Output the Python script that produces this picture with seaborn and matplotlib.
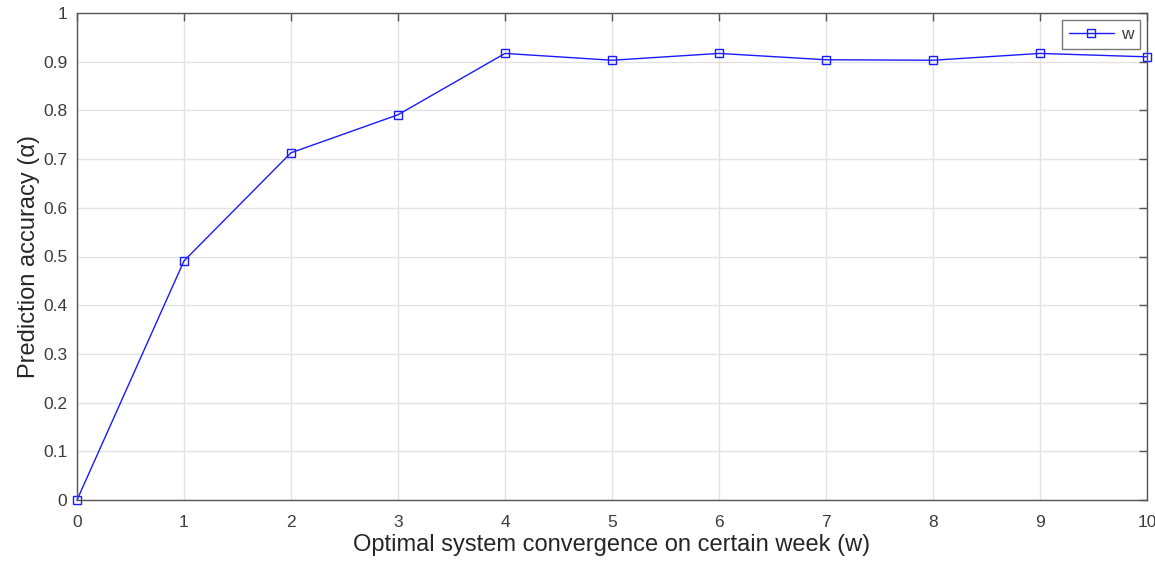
import matplotlib
matplotlib.use("Agg")
import matplotlib.pyplot as plt
import seaborn as sns
import pandas as pd

weeks = [0, 1, 2, 3, 4, 5, 6, 7, 8, 9, 10]
accuracy = [0.0, 0.491, 0.713, 0.791, 0.917, 0.903, 0.917, 0.904, 0.903, 0.917, 0.910]
series_name = "w"
x_ticks = list(range(0, 11))
y_ticks = [0, 0.1, 0.2, 0.3, 0.4, 0.5, 0.6, 0.7, 0.8, 0.9, 1]
y_tick_labels = ["0", "0.1", "0.2", "0.3", "0.4", "0.5", "0.6", "0.7", "0.8", "0.9", "1"]

sns.set_theme(style="white")
plt.rcParams['font.family'] = ['Liberation Sans', 'DejaVu Sans']

df = pd.DataFrame({"week": weeks, "acc": accuracy, "series": series_name})

fig = plt.figure(figsize=(11.55, 5.73), dpi=100)
ax = fig.add_axes([77/1155, 1-500/573, (1147-77)/1155, (500-13)/573])

line_color = "#1a1aff"
sns.lineplot(data=df, x="week", y="acc", hue="series", palette=[line_color],
             marker="s", markersize=6, markerfacecolor="none", markeredgecolor=line_color,
             markeredgewidth=1.0, linewidth=1.0, ax=ax, clip_on=False)

ax.set_xlim(0, 10)
ax.set_ylim(0, 1)
ax.set_xticks(x_ticks)
ax.set_yticks(y_ticks)
ax.set_yticklabels(y_tick_labels)
ax.grid(True, color="#e3e3e3", linewidth=1.0)
ax.set_axisbelow(True)
spine_color = "#555555"
ax.tick_params(direction="in", length=6, width=1, colors=spine_color, labelsize=12.5,
               top=True, right=True, labelcolor="#3c3c3c")
ax.tick_params(axis="x", pad=11)
ax.tick_params(axis="y", pad=7)
for s in ax.spines.values():
    s.set_color(spine_color)
    s.set_linewidth(1.0)
ax.set_xlabel("Optimal system convergence on certain week (w)", fontsize=17, color="#262626", labelpad=3)
ax.set_ylabel("Prediction accuracy (α)", fontsize=17, color="#262626", labelpad=2)

leg = ax.legend(loc="upper right", fontsize=12.5, frameon=True, fancybox=False,
                edgecolor=spine_color, handlelength=2.6, borderaxespad=0.4,
                handletextpad=0.4)
leg.get_frame().set_linewidth(1.0)
for t in leg.get_texts():
    t.set_color("#3c3c3c")

fig.savefig("out.png", dpi=100, facecolor="white")
